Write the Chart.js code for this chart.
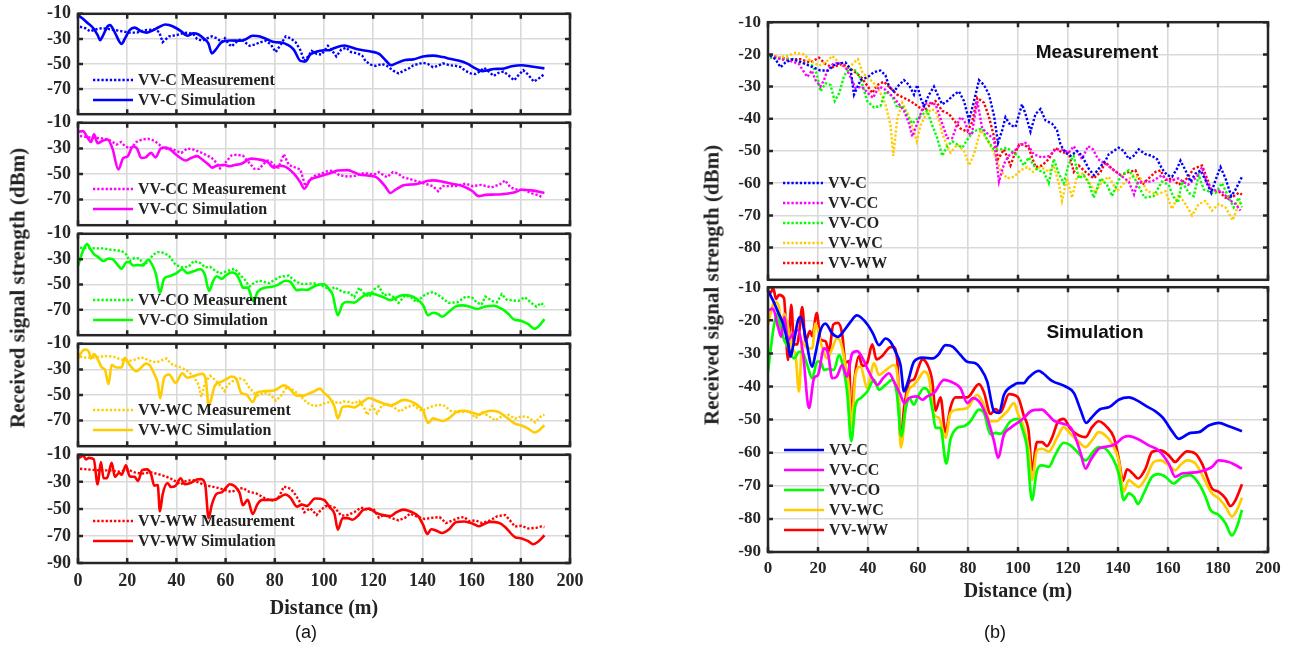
<!DOCTYPE html>
<html><head><meta charset="utf-8">
<script src="https://cdn.jsdelivr.net/npm/chart.js@4.4.1/dist/chart.umd.min.js"></script>
<style>
body{margin:0;background:#fff;width:1299px;height:648px;position:relative;overflow:hidden;}
canvas{position:absolute;}
.t{position:absolute;white-space:nowrap;font-weight:bold;color:#222;font-family:"Liberation Serif";}
.ytitle{font-size:21px;transform:translate(-50%,-50%) rotate(-90deg);}
.xtitle{font-size:20px;transform:translate(-50%,-50%);}
.ann{font-family:"Liberation Sans";font-size:19px;transform:translate(-50%,-50%);color:#111;}
.cap{font-family:"Liberation Sans";font-weight:normal;font-size:18px;transform:translate(-50%,-50%);color:#111;}
.leg{position:absolute;font-family:"Liberation Serif";font-weight:bold;font-size:16px;color:#222;white-space:nowrap;}
.row{height:20px;line-height:20px;display:flex;align-items:center;}
.row svg{margin-right:5px;}
</style></head><body>
<script>
// ---------------- data ----------------
const seriesNames = ['VV-C','VV-CC','VV-CO','VV-WC','VV-WW'];
const distTicks = [0,20,40,60,80,100,120,140,160,180,200];
const dbTicksA = [-90,-70,-50,-30,-10];
const dbTicksB = [-90,-80,-70,-60,-50,-40,-30,-20,-10];

// simulation series: [distance m, dBm]
const simC = [[0,-11],[2,-14],[4,-17.5],[6,-21],[8,-27],[9,-31],[10,-28],[12,-20],[13,-19],[15,-25],[17.7,-34],[19,-30],[21,-23],[23,-21],[25.7,-24],[28,-25],[30,-23.5],[33,-20.5],[35.5,-18.5],[37,-19],[40,-21.5],[42,-24],[44.4,-27.5],[47,-25.5],[49,-26.5],[51,-29.5],[53,-33.5],[54.4,-41.5],[56,-38.5],[58.4,-32.5],[62,-31.3],[66,-31.5],[68,-30.5],[71,-27.5],[74,-28],[77,-30.5],[79.7,-32.5],[83,-33],[85,-34.5],[87.7,-38.5],[90.4,-47.5],[92.4,-48],[94.4,-42.5],[98.4,-39.5],[100,-39],[102.3,-39],[104,-37.5],[108.3,-35.3],[110,-36],[113.6,-38.3],[119,-40],[122.4,-42],[125,-47],[127.3,-51],[129.3,-49.5],[133,-46.8],[136.3,-46.3],[140.3,-44],[144.3,-43.3],[148.3,-44.5],[151,-45.8],[155,-47.5],[158,-49.5],[161.6,-53.5],[164.3,-55.8],[167,-54.8],[169,-54],[172.3,-53.8],[176.3,-51.8],[180.3,-51],[184.3,-52],[189.6,-53.5]];
const simCC = [[0,-17],[2,-16.5],[4,-22],[5.3,-25],[6.5,-19],[8,-26],[10,-24],[12,-23],[14,-30],[16.4,-46.5],[18.4,-37.5],[20,-36.5],[22.4,-28.5],[24,-30],[25.7,-37.5],[27.5,-37],[29.7,-33.5],[31.5,-37],[33.7,-30],[35.7,-29.3],[37.5,-31],[39.7,-34.5],[41.7,-37.5],[43.7,-39.5],[46,-37.5],[48.4,-36],[50.4,-38.5],[53,-42.5],[54.5,-45],[56.4,-43.5],[59.7,-43],[61.7,-44],[63.7,-43],[66.4,-42],[70.4,-38],[73,-38.5],[77,-40.5],[79.7,-45],[82,-43.5],[84.4,-44.5],[87.7,-49.5],[90.4,-56.5],[92,-61.5],[94.4,-54.5],[97,-52.5],[99.7,-51],[102.3,-49.5],[105.6,-47.3],[109.6,-47],[112,-48.5],[114.3,-50.3],[118.3,-51.3],[121,-52.3],[123,-55.5],[125,-60],[127,-64.8],[129,-62.3],[132.3,-58.8],[134.3,-58.3],[137,-58],[139,-57.3],[142.3,-55.3],[144.3,-55],[148.3,-56],[152.3,-57.8],[156.3,-59.3],[160.3,-63.3],[162.9,-67.3],[165.6,-66.3],[168.3,-66.1],[172.3,-65.8],[177.6,-64.3],[180.3,-62.3],[184.3,-62.8],[189.6,-64.8]];
const simCO = [[0,-35.5],[1.2,-28],[2.4,-21.5],[3.7,-18],[5,-22],[6.5,-26],[8,-28],[10.4,-31.5],[12.4,-29.5],[14,-30],[15.7,-33.5],[17.7,-37.5],[19.7,-32.5],[21,-32.5],[22.4,-35],[24.4,-34.7],[26.4,-35],[28.4,-30.5],[30.3,-35],[31.7,-42],[33.3,-56.5],[35,-45.5],[37.1,-43.5],[39.7,-41.5],[42.4,-38],[44.4,-41],[47,-39.5],[49.7,-38],[51.5,-42],[53.3,-55],[55,-47],[56.4,-43.5],[58.4,-45.5],[60,-43],[62.4,-40.5],[64.4,-42],[66,-48],[67,-52.5],[69,-52.5],[71.3,-63.3],[73,-56],[75.7,-52.5],[78.4,-52],[81,-50.5],[84.4,-47],[86.4,-48],[89,-54.5],[91,-54],[93,-54.3],[97,-50.5],[100,-49.8],[102,-53.5],[103.5,-58],[105.6,-74.3],[107.6,-65.3],[109.6,-63.8],[112.3,-64.3],[115,-60.5],[118.3,-57],[121,-57.8],[124.4,-60.3],[127,-62.3],[130.3,-59.5],[132.3,-58.3],[135,-58.8],[137.6,-61.3],[140.3,-66.3],[142.3,-74.3],[144.3,-72.3],[146.3,-73.3],[148,-75.5],[150.3,-72.3],[153.6,-67.3],[156.3,-66.5],[159,-67.3],[162.2,-69.3],[165.6,-67.3],[168.9,-66.8],[172.3,-69.3],[175,-73.3],[177,-77.3],[180.3,-78.8],[183,-81.3],[185.6,-85],[187.6,-82.3],[189.6,-77.3]];
const simWC = [[0,-21.5],[1,-18],[2.1,-15],[3.2,-14.5],[4.4,-16],[5.3,-21.5],[6.5,-18],[8,-22],[9.7,-28.5],[11,-30.5],[12.4,-41.5],[13.7,-26.5],[15.7,-28.5],[17.7,-28.5],[19,-21],[21,-26.5],[23.7,-31.5],[25.7,-28.5],[27.5,-25.5],[29,-26.5],[31,-33.5],[32.4,-40.5],[33.4,-52.5],[35,-36.5],[37,-34],[39.7,-40.5],[42.4,-33],[44.4,-36.5],[46.4,-35.5],[50.4,-33.5],[52,-38.5],[53.1,-58.5],[55.7,-42.5],[58.4,-39.5],[60.4,-37.5],[62.4,-35.5],[64.4,-37.5],[66.4,-48.5],[68.4,-49.5],[71,-55.5],[73,-48],[75.7,-47],[79.7,-46.5],[83.7,-42.5],[85.7,-44.5],[89,-50.5],[91.7,-50.5],[93,-49.5],[95.7,-47.5],[98.4,-45],[100,-48.3],[102.3,-52.3],[104.3,-59.3],[105.6,-68.3],[107.6,-59.3],[109.6,-58.8],[112.3,-59.7],[115.6,-55.5],[118.3,-52.3],[121,-54.3],[124.4,-56.8],[127,-58.3],[129.6,-56.3],[132.3,-53.8],[135,-54.8],[137.6,-57.3],[140.3,-62.3],[142.3,-71.8],[144.3,-68.3],[145.9,-69.1],[148.3,-70.3],[151,-67.8],[154.3,-62.8],[157,-62.3],[160.3,-63.8],[162.9,-65.3],[164.9,-63.8],[167.6,-62.3],[171,-63.3],[173,-65.8],[177.6,-72.3],[180.3,-73.8],[183,-76.3],[185.6,-79.3],[187.6,-77.3],[189.6,-73.6]];
const simWW = [[0,-12.3],[1.2,-11.5],[2.1,-10.3],[3.2,-13.5],[4.4,-12.3],[6.4,-13.3],[8,-32],[9.3,-15.3],[10.4,-27.3],[11.7,-27.3],[12.4,-24.3],[13.7,-16],[15,-26.3],[16.8,-23.3],[17.7,-24.8],[19.5,-17.8],[21,-25.8],[23,-26.3],[24.4,-29.3],[26.1,-21.3],[28,-20.8],[29.7,-24.3],[31,-32.8],[32.4,-32.3],[33.3,-51.8],[34.4,-39.3],[36.4,-30.8],[37.7,-33.8],[39.7,-32.8],[41.7,-27.3],[43.4,-31.8],[45.7,-30.8],[48.4,-28.3],[50,-28],[51.7,-32],[53.1,-56.8],[54.4,-46.8],[56.4,-38.8],[58.4,-37.8],[60.4,-33.8],[61.7,-31.8],[63.7,-33.3],[65.7,-38.3],[67,-47.3],[69,-43.3],[71,-53.8],[73,-46.3],[75,-43.3],[79.7,-43.3],[84.4,-39.3],[86.4,-41.8],[89,-48.3],[91,-46.8],[93,-47.8],[96.4,-42.3],[100,-43.3],[102.3,-48.8],[104.3,-53.8],[105.6,-65.3],[107.6,-56.8],[109.6,-56.8],[111.6,-58],[113.6,-55.5],[115.9,-50.8],[118.3,-49.8],[121,-52.8],[124.4,-54.8],[127,-55.3],[129.6,-52.3],[132.3,-50.5],[135.6,-52.3],[138.3,-55.3],[140.3,-61.8],[142,-68.5],[143.6,-65],[145.9,-66.3],[148,-67.8],[151,-64.8],[153.6,-59.8],[157,-59.3],[160.3,-60.8],[162.9,-62.8],[164.9,-61.3],[167.6,-59.6],[171,-60.3],[173.6,-63.3],[177.6,-70.8],[180.3,-71.8],[183,-73.8],[185,-76.1],[187,-74.3],[189.6,-69.5]];

// measurement series: [distance m, dBm]
const measC = [[0.8,-20.3],[3,-21.5],[5,-24],[7,-22.5],[9.7,-21.5],[12,-22],[15,-23],[18,-24],[21,-25],[24,-25],[27,-23],[31,-22.5],[33,-24.5],[34.4,-32.5],[37,-28],[40,-27],[42.4,-25.5],[45,-25],[47,-26.5],[48.4,-30],[50.4,-31.5],[52.4,-29.5],[54.4,-28],[56.4,-29.5],[58.4,-32.5],[59.7,-29.5],[61,-33.5],[62.4,-36],[64.4,-32.5],[66.4,-30],[68.4,-33.5],[69.7,-35.5],[71.7,-34.5],[74.4,-32.5],[76.4,-31.5],[78.4,-34.5],[80.4,-40.5],[82.4,-34.5],[84.4,-28],[86.4,-29.5],[88.4,-32.5],[90.4,-39],[92,-47.5],[93.7,-43.5],[95,-39.5],[97,-42],[99,-42.5],[101.6,-35.5],[103,-38.5],[105,-44],[107,-38.5],[109,-37],[111,-40.5],[113.6,-41.5],[115.6,-43.5],[117,-48],[119,-50.5],[121,-51.5],[123.6,-50],[125.6,-51.5],[128.3,-55.5],[130.3,-57.5],[132.3,-55.5],[135,-53],[136.3,-51],[138.3,-50],[140.3,-49],[142.3,-50],[144.3,-52.5],[146.3,-51.5],[148.3,-49.5],[151,-51],[153.6,-51.5],[155.6,-52.5],[157.6,-55.5],[159.6,-57.5],[161.6,-58],[163.6,-55.5],[165,-53],[167,-56],[169,-59.5],[171,-57],[173,-56],[175,-59],[177.3,-63],[179,-59],[181,-55],[183,-58.5],[185.3,-64],[187,-62],[189.6,-58]];
const measCC = [[0.8,-20.3],[5,-21.5],[9,-22],[12.4,-23],[14,-25],[15.7,-27],[17.5,-25],[19,-28],[21,-30],[22.4,-28],[23.7,-25],[26,-23],[28.5,-22.5],[31,-24],[33,-27],[35,-30.5],[37.5,-30],[40,-32],[42,-33.5],[44.4,-30],[47,-31],[50.4,-33.5],[52.4,-35.5],[54.4,-37.5],[56.4,-41.5],[57.7,-45.5],[59.7,-41.5],[62.4,-35.5],[64.4,-35],[67,-35.5],[69.7,-41.5],[71.7,-46],[73.7,-46],[75.5,-42],[77,-39.5],[78.5,-40.5],[80.4,-44.5],[81.5,-45],[83.7,-34.5],[85.7,-43],[87.7,-44.5],[90.4,-46.5],[92.4,-59.5],[94.4,-54],[96.3,-51.5],[98.6,-50],[101,-48],[103,-47.5],[104.3,-48.5],[106.3,-51],[109.6,-52],[112.6,-51.5],[115,-49.5],[117.6,-49.5],[120.3,-50.5],[122.3,-48.5],[124.3,-51],[125.6,-52.5],[128,-48.5],[130,-49.5],[132,-52.5],[135,-54],[137.6,-55.5],[141,-57.5],[144.3,-59.5],[146.4,-63.5],[148,-59.5],[150.6,-59.5],[153.6,-59.5],[157.6,-57.5],[160.3,-59.5],[164,-58.5],[168,-60.5],[171.6,-58],[173.6,-55],[175.6,-60],[177.6,-62],[181.6,-62.5],[184.3,-65],[187,-66.5],[189,-68.5]];
const measCO = [[0.8,-21],[4,-21.3],[7.3,-21.5],[10.4,-21.5],[13,-22.5],[15.5,-23],[17.7,-23.5],[19.5,-26],[21,-31.5],[23,-29],[25,-29.5],[26.7,-34.5],[28.5,-32],[30.5,-26.5],[32.4,-24.5],[35,-25],[37,-27.5],[39.7,-34.5],[42.4,-36.5],[45,-36],[47,-31.5],[49.7,-33],[51.7,-36.5],[53.7,-36],[55.7,-39],[57.7,-41.5],[60.4,-39.5],[63.7,-37.5],[65.7,-42],[67.7,-46],[69.7,-51.5],[71.7,-48.5],[73.7,-47],[75.7,-48],[77.7,-49],[79.7,-46.5],[82,-44],[83.7,-43.5],[85.7,-43],[87.7,-46.5],[90.4,-49.5],[93,-49.5],[95.7,-49],[99,-51],[100,-51.5],[102.3,-54.5],[104.3,-52],[106.3,-54.5],[108,-56],[110.3,-56.5],[112.3,-60],[114.3,-52.5],[116.3,-57],[118.3,-60],[120.3,-54],[122.3,-51.5],[124.3,-58.5],[126.3,-57.5],[128.3,-60],[130.3,-64.5],[133,-58.5],[135.6,-60.5],[137.6,-64],[140.3,-59],[142.3,-57],[144.3,-56],[147,-59],[150.6,-64.5],[154.3,-64],[157.6,-59.5],[160.3,-60.5],[162,-64],[164,-66],[165.6,-59.5],[168.3,-63],[170.3,-64],[172.3,-57.5],[174.3,-62],[176.3,-62.5],[179,-63],[181.6,-60],[184.3,-64.5],[186.3,-67.5],[188.3,-64.5],[189.6,-67.5]];
const measWC = [[0.8,-20],[3.7,-21],[7.7,-20.5],[11,-19.5],[14.4,-20],[17,-22],[20.4,-23.5],[23,-22.5],[25.7,-20.5],[27.7,-22],[29.7,-23.5],[32,-24.5],[34.4,-22.5],[36,-21.5],[37.7,-25.5],[40,-27.5],[42,-28.5],[44.4,-31],[47,-35.5],[49,-42],[50.1,-51.5],[51.7,-40],[53.7,-35],[55.7,-38],[58.4,-44],[59.5,-47],[61,-42],[63.7,-38],[65.7,-37],[67.7,-38.5],[69.7,-44.5],[71.7,-48.5],[73,-50.5],[75.7,-48],[78.4,-50],[80.4,-54.5],[82.4,-51],[85,-43.5],[87.7,-46.5],[90.4,-50.5],[93,-56],[95.7,-58.5],[98.4,-58],[101,-56],[103.7,-55],[106,-56.5],[108,-55],[110.3,-55.5],[112.3,-56.5],[114.3,-54.5],[116.3,-60],[117.6,-65.5],[119.6,-58.5],[121.6,-64.5],[123.6,-58],[125.6,-57],[128.3,-59.5],[131,-63],[133.6,-59.5],[136.3,-58],[139.7,-62.5],[143,-59.5],[146.3,-57.5],[149,-58.5],[151.6,-62.5],[155.6,-63.5],[159,-62.5],[161.6,-68],[164.3,-63.5],[167,-66.5],[169.6,-70],[172.3,-66.5],[175,-65.5],[177.6,-68.5],[180.3,-66.5],[183,-67.5],[185.9,-71.5],[188.3,-66.5],[189.6,-65.5]];
const measWW = [[0.8,-20.3],[5,-21],[9,-21.5],[13,-21.5],[17,-22.5],[20.4,-21],[23,-23],[25.7,-24],[29.7,-23],[33,-24.5],[35.7,-26],[37.7,-27.5],[40.4,-30.5],[41.7,-32],[43.7,-29.5],[46.4,-28.5],[49,-30.5],[51.7,-32.5],[54.4,-33.5],[57,-34.5],[59.7,-36],[62.4,-37.5],[65,-35.5],[67,-34.5],[69.7,-37.5],[72.4,-38.5],[74.4,-40.5],[77,-43],[79.7,-44],[81.7,-41],[83.7,-33.5],[86.4,-35],[88.4,-39.5],[90.4,-45.5],[92,-52.5],[94.4,-49.5],[97,-54.5],[98.4,-51.5],[100.5,-48],[102.3,-48],[104.3,-49],[107,-55],[109.6,-54.5],[112.3,-52.5],[115,-49],[117.6,-50.5],[120.3,-50.5],[122.3,-56.5],[124.3,-54.5],[127,-56.5],[130.3,-58.5],[133,-56.5],[135,-53.5],[137.6,-55.5],[141,-57.5],[144.3,-56.5],[147,-56],[149.6,-60.5],[152.3,-58.5],[155,-56.5],[157,-56],[159,-59],[161.6,-58.5],[164.3,-60.5],[167.6,-58.5],[170.3,-55.5],[173.6,-54.5],[175.6,-58.5],[177.6,-63],[180.3,-62.5],[183,-64.5],[186.3,-64],[188.3,-63],[189.6,-63.5]];

const simSeries = [simC, simCC, simCO, simWC, simWW];
const measSeries = [measC, measCC, measCO, measWC, measWW];

// ---------------- styles ----------------
const colors = ['#0000ff','#ff00ff','#00ff00','#ffcc00','#ff0000'];
const DOT = [2.3,1.9];
const TXT = '#262626';

function ds(pairs, color, dotted, w){
  return {
    data: pairs.map(p => ({x:p[0], y:p[1]})),
    borderColor: color, backgroundColor: color,
    borderWidth: w, borderDash: dotted ? DOT : [],
    pointRadius: 0, fill: false,
    tension: 0, cubicInterpolationMode: dotted ? 'default' : 'monotone'
  };
}

const framePlugin = {
  id: 'frame',
  afterDatasetsDraw(chart){
    const {ctx, chartArea:a, scales:{x, y}} = chart;
    ctx.save();
    ctx.strokeStyle = TXT; ctx.lineWidth = 2.5; ctx.setLineDash([]);
    ctx.strokeRect(a.left, a.top, a.right - a.left, a.bottom - a.top);
    const tl = 5;
    ctx.beginPath();
    x.ticks.forEach(t => { const p = x.getPixelForValue(t.value);
      ctx.moveTo(p, a.top); ctx.lineTo(p, a.top + tl);
      ctx.moveTo(p, a.bottom); ctx.lineTo(p, a.bottom - tl); });
    y.ticks.forEach(t => { const p = y.getPixelForValue(t.value);
      ctx.moveTo(a.left, p); ctx.lineTo(a.left + tl, p);
      ctx.moveTo(a.right, p); ctx.lineTo(a.right - tl, p); });
    ctx.stroke();
    ctx.restore();
  }
};

function makeChart(o){
  const c = document.createElement('canvas');
  c.width = o.w; c.height = o.h;
  c.style.left = o.l + 'px'; c.style.top = o.t + 'px';
  document.body.appendChild(c);
  const font = {family:'Liberation Serif', weight:'bold', size:o.fs};
  return new Chart(c, {
    type: 'line',
    data: {datasets: o.datasets},
    options: {
      responsive: false, animation: false, devicePixelRatio: 1,
      layout: {padding: {top: o.pt, right: o.pr, left: 0, bottom: 0}},
      plugins: {legend: {display: false}, tooltip: {enabled: false}},
      scales: {
        x: {type: 'linear', min: 0, max: 200,
            afterBuildTicks: a => { a.ticks = distTicks.map(v => ({value: v})); },
            afterFit: s => { s.height = o.xh; },
            grid: {color: '#d9d9d9', lineWidth: 1.6, drawTicks: false},
            border: {display: false},
            ticks: {display: o.xlab, padding: o.xpad, font, color: TXT, maxRotation: 0, autoSkip: false}},
        y: {type: 'linear', min: -90, max: -10,
            afterBuildTicks: a => { a.ticks = o.yt.map(v => ({value: v})); },
            afterFit: s => { s.width = o.yw; },
            grid: {color: '#d9d9d9', lineWidth: 1.6, drawTicks: false},
            border: {display: false},
            ticks: {padding: 7, font, color: TXT, autoSkip: false,
                    callback: v => (o.hideBottom && v === -90) ? null : String(v)}}
      }
    },
    plugins: [framePlugin]
  });
}

// ---------------- panel (a) ----------------
const aTops = [11, 120, 231, 341, 452, 563];
const aLeft = 78, aRight = 570;
for (let i = 0; i < 5; i++){
  const T = aTops[i], B = aTops[i+1], last = i === 4;
  const xh = last ? 40 : 12;
  makeChart({l: 0, t: T - 15, w: aRight + 22, h: 15 + (B - T) + xh,
    pt: 15, pr: 22, yw: aLeft, xh, xlab: last, xpad: 8, fs: 18,
    yt: dbTicksA, hideBottom: !last,
    datasets: [ds(measSeries[i], colors[i], true, 2.4), ds(simSeries[i], colors[i], false, 2.6)]});
}

// ---------------- panel (b) ----------------
const bLeft = 768, bRight = 1268, bCanvasL = 700;
makeChart({l: bCanvasL, t: 5, w: bRight + 22 - bCanvasL, h: 15 + 265 + 12,
  pt: 15, pr: 22, yw: bLeft - bCanvasL, xh: 12, xlab: false, xpad: 8, fs: 17,
  yt: dbTicksB, hideBottom: true,
  datasets: measSeries.map((s, i) => ds(s, colors[i], true, 2.4))});
makeChart({l: bCanvasL, t: 270, w: bRight + 22 - bCanvasL, h: 15 + 267 + 35,
  pt: 15, pr: 22, yw: bLeft - bCanvasL, xh: 35, xlab: true, xpad: 6, fs: 17,
  yt: dbTicksB, hideBottom: false,
  datasets: simSeries.map((s, i) => ds(s, colors[i], false, 2.7))});

// ---------------- text & legends ----------------
function txt(cls, s, x, y){
  const d = document.createElement('div');
  d.className = 't ' + cls; d.textContent = s;
  d.style.left = x + 'px'; d.style.top = y + 'px';
  document.body.appendChild(d);
}
txt('ytitle', 'Received signal strength (dBm)', 18, 288);
txt('ytitle', 'Received signal strength (dBm)', 712, 285);
txt('xtitle', 'Distance (m)', 324, 607);
txt('xtitle', 'Distance (m)', 1018, 590);
txt('ann', 'Measurement', 1097, 52);
txt('ann', 'Simulation', 1095, 332);
txt('cap', '(a)', 306, 632);
txt('cap', '(b)', 995, 632);

function sample(color, dotted){
  return `<svg width="40" height="20"><line x1="0" y1="10" x2="40" y2="10" stroke="${color}" stroke-width="2.6"${dotted ? ` stroke-dasharray="${DOT.join(' ')}"` : ''}/></svg>`;
}
function legend(x, y, rows){
  const d = document.createElement('div');
  d.className = 'leg'; d.style.left = x + 'px'; d.style.top = y + 'px';
  d.innerHTML = rows.map(r => `<div class="row">${sample(r.c, r.d)}<span>${r.s}</span></div>`).join('');
  document.body.appendChild(d);
}
for (let i = 0; i < 5; i++){
  legend(93, aTops[i] + 59, [
    {c: colors[i], d: true, s: seriesNames[i] + ' Measurement'},
    {c: colors[i], d: false, s: seriesNames[i] + ' Simulation'}]);
}
legend(783, 173, seriesNames.map((n, i) => ({c: colors[i], d: true, s: n})));
legend(784, 440, seriesNames.map((n, i) => ({c: colors[i], d: false, s: n})));
</script>
</body></html>
